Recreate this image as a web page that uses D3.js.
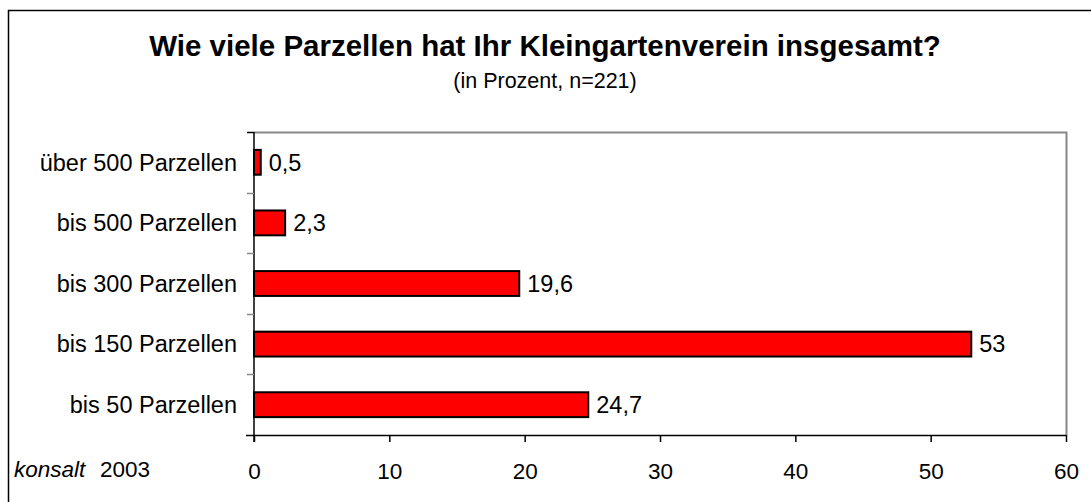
<!DOCTYPE html>
<html>
<head>
<meta charset="utf-8">
<script src="https://cdn.jsdelivr.net/npm/d3@7"></script>
<style>
  body { margin: 0; background: #fff; }
  text { font-family: "Liberation Sans", Arial, sans-serif; }
</style>
</head>
<body>
<div id="chart"></div>
<script>
// data, top row first
var categories = ["über 500 Parzellen", "bis 500 Parzellen", "bis 300 Parzellen", "bis 150 Parzellen", "bis 50 Parzellen"];
var values = [0.5, 2.3, 19.6, 53, 24.7];
var valueLabels = ["0,5", "2,3", "19,6", "53", "24,7"];
var xTicks = [0, 10, 20, 30, 40, 50, 60];

var width = 1091, height = 502;
// plot area (don't use "top", it's window.top)
var pLeft = 254, pRight = 1066, pTop = 132, pBottom = 435;

var svg = d3.select("#chart").append("svg")
    .attr("width", width)
    .attr("height", height);

// outer frame (only left and top are in view)
svg.append("rect")
    .attr("x", 8.5).attr("y", 10.5)
    .attr("width", 1200).attr("height", 600)
    .attr("fill", "none").attr("stroke", "#000").attr("stroke-width", 1.5);

svg.append("text")
    .attr("x", 545).attr("y", 56)
    .attr("text-anchor", "middle")
    .style("font-size", "29.5px").style("font-weight", "bold")
    .text("Wie viele Parzellen hat Ihr Kleingartenverein insgesamt?");

svg.append("text")
    .attr("x", 545).attr("y", 88)
    .attr("text-anchor", "middle")
    .style("font-size", "21.5px")
    .text("(in Prozent, n=221)");

var x = d3.scaleLinear().domain([0, 60]).range([pLeft, pRight]);
var y = d3.scaleBand().domain(categories).range([pTop, pBottom]).paddingInner(0.59).paddingOuter(0.295);
var yb = d3.scaleBand().domain(categories).range([pTop, pBottom]);

// gray plot border top/right
svg.append("path")
    .attr("d", "M" + pLeft + "," + (pTop + 0.5) + "H" + (pRight + 0.5) + "V" + pBottom)
    .attr("fill", "none").attr("stroke", "#888").attr("stroke-width", 2);

// bars
svg.selectAll(".bar").data(values).enter().append("rect")
    .attr("class", "bar")
    .attr("x", x(0))
    .attr("y", function(d, i) { return y(categories[i]); })
    .attr("width", function(d) { return x(d) - x(0); })
    .attr("height", y.bandwidth())
    .attr("fill", "#ff0000")
    .attr("stroke", "#000").attr("stroke-width", 2);

// value labels
svg.selectAll(".val").data(values).enter().append("text")
    .attr("class", "val")
    .attr("x", function(d) { return x(d) + 8; })
    .attr("y", function(d, i) { return y(categories[i]) + y.bandwidth() / 2; })
    .attr("dy", "0.35em")
    .style("font-size", "23.5px")
    .text(function(d, i) { return valueLabels[i]; });

// category labels
svg.selectAll(".cat").data(categories).enter().append("text")
    .attr("class", "cat")
    .attr("x", 237)
    .attr("y", function(d) { return yb(d) + yb.bandwidth() / 2; })
    .attr("dy", "0.35em")
    .attr("text-anchor", "end")
    .style("font-size", "23.5px")
    .text(function(d) { return d; });

// y axis line with ticks at band boundaries
var bounds = categories.map(function(d) { return yb(d); });
svg.append("line")
    .attr("x1", pLeft).attr("x2", pLeft)
    .attr("y1", pTop).attr("y2", pBottom + 7)
    .attr("stroke", "#000").attr("stroke-width", 1.5);
svg.selectAll(".ytick").data(bounds).enter().append("line")
    .attr("class", "ytick")
    .attr("x1", pLeft - 7).attr("x2", pLeft)
    .attr("y1", function(d) { return Math.round(d) + 0.5; })
    .attr("y2", function(d) { return Math.round(d) + 0.5; })
    .attr("stroke", function(d, i) { return i == 0 ? "#000" : "#888"; })
    .attr("stroke-width", 1.5);

// x axis
var xAxis = svg.append("g")
    .attr("transform", "translate(0," + pBottom + ")")
    .call(d3.axisBottom(x).tickValues(xTicks).tickSize(7).tickPadding(21).tickSizeOuter(0));
xAxis.select(".domain").attr("stroke", "#000").attr("stroke-width", 1.5)
    .attr("d", "M" + (pLeft - 8) + ",0.5H" + pRight);
xAxis.selectAll(".tick line").attr("stroke", "#000").attr("stroke-width", 1.5);
xAxis.selectAll(".tick text")
    .style("font-size", "22.5px")
    .style("font-family", "'Liberation Sans', Arial, sans-serif")
    .attr("fill", "#000");

// source note
var note = svg.append("text")
    .attr("x", 14).attr("y", 477)
    .style("font-size", "22.5px");
note.append("tspan").style("font-style", "italic").text("konsalt");
note.append("tspan").attr("x", 100).text("2003");
</script>
</body>
</html>
